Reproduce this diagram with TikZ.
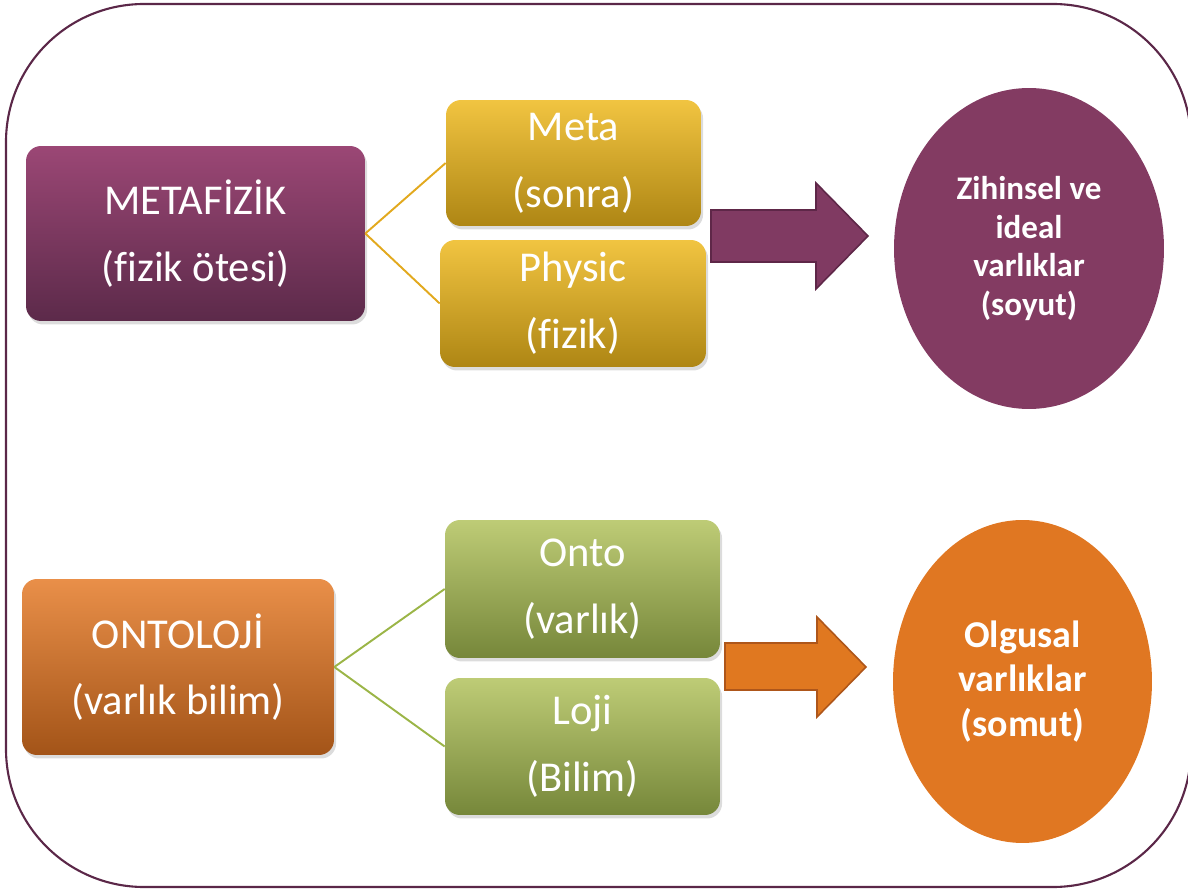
\documentclass[tikz,border=0pt]{standalone}
\usepackage{fontspec}
\setmainfont{Carlito}[Ligatures=NoCommon]
\usetikzlibrary{shadows,shapes.geometric}
\definecolor{outerc}{HTML}{5B2748}
\definecolor{mtop}{HTML}{9B4775}
\definecolor{mbot}{HTML}{5C2A4A}
\definecolor{gtop}{HTML}{F1C441}
\definecolor{gbot}{HTML}{AE8614}
\definecolor{otop}{HTML}{E98F49}
\definecolor{obot}{HTML}{A35418}
\definecolor{vtop}{HTML}{BECC76}
\definecolor{vbot}{HTML}{76873A}
\definecolor{parrow}{HTML}{803A62}
\definecolor{pborder}{HTML}{5E2748}
\definecolor{pell}{HTML}{833B62}
\definecolor{oarrow}{HTML}{E07820}
\definecolor{oborder}{HTML}{AE561A}
\definecolor{oell}{HTML}{E07722}
\definecolor{gline}{HTML}{E2A91E}
\definecolor{vline}{HTML}{9BB547}
\begin{document}
\begin{tikzpicture}[x=0.02cm,y=-0.02cm,
  box/.style={rounded corners=0.3cm, inner sep=0pt, text=white, align=center,
    font={\fontsize{24.2}{38}\selectfont},
    drop shadow={shadow xshift=1.2pt, shadow yshift=-2pt, opacity=0.28}},
  ell/.style={ellipse, inner sep=0pt, text=white, align=center},
  conn/.style={line width=1.1pt},
  blockarrow/.style={line width=0.9pt, line join=miter}]
\useasboundingbox (0,0) rectangle (1188,891);
\draw[line width=1.2pt, outerc, rounded corners=2.76cm] (6,4) rectangle (1191,887);

% top row
\node[box, top color=mtop, bottom color=mbot, minimum width=6.78cm, minimum height=3.5cm]
  (metafizik) at (195.5,233.5) {METAFİZİK\\(fizik ötesi)};
\node[box, top color=gtop, bottom color=gbot, minimum width=5.1cm, minimum height=2.52cm]
  (meta) at (573.5,163) {Meta\\(sonra)};
\node[box, top color=gtop, bottom color=gbot, minimum width=5.32cm, minimum height=2.54cm]
  (physic) at (573,303.5) {Physic\\(fizik)};
\draw[conn, gline] (metafizik.east) -- (meta.west);
\draw[conn, gline] (metafizik.east) -- (physic.west);

\node[ell, fill=pell, minimum width=5.4cm, minimum height=6.42cm,
  font={\bfseries\fontsize{18.8}{22}\selectfont}]
  (zihinsel) at (1029,248.5) {\raisebox{0pt}{}Zihinsel ve\\ideal\\varlıklar\\(soyut)};
\draw[blockarrow, fill=parrow, draw=pborder]
  (711,210) -- (816,210) -- (816,183) -- (868,236) -- (816,289) -- (816,262) -- (711,262) -- cycle;

% bottom row
\node[box, top color=otop, bottom color=obot, minimum width=6.24cm, minimum height=3.52cm]
  (ontoloji) at (178,667) {ONTOLOJİ\\(varlık bilim)};
\node[box, top color=vtop, bottom color=vbot, minimum width=5.5cm, minimum height=2.76cm]
  (onto) at (582.5,589) {Onto\\(varlık)};
\node[box, top color=vtop, bottom color=vbot, minimum width=5.5cm, minimum height=2.74cm]
  (loji) at (582.5,746.5) {Loji\\(Bilim)};
\draw[conn, vline] (ontoloji.east) -- (onto.west);
\draw[conn, vline] (ontoloji.east) -- (loji.west);

\node[ell, fill=oell, minimum width=5.18cm, minimum height=6.46cm,
  font={\bfseries\fontsize{21.6}{25.4}\selectfont}]
  (olgusal) at (1022.5,681.5) {Olgusal\\varlıklar\\(somut)};
\draw[blockarrow, fill=oarrow, draw=oborder]
  (725,643) -- (817,643) -- (817,617) -- (866,667) -- (817,717) -- (817,690) -- (725,690) -- cycle;
\end{tikzpicture}
\end{document}
